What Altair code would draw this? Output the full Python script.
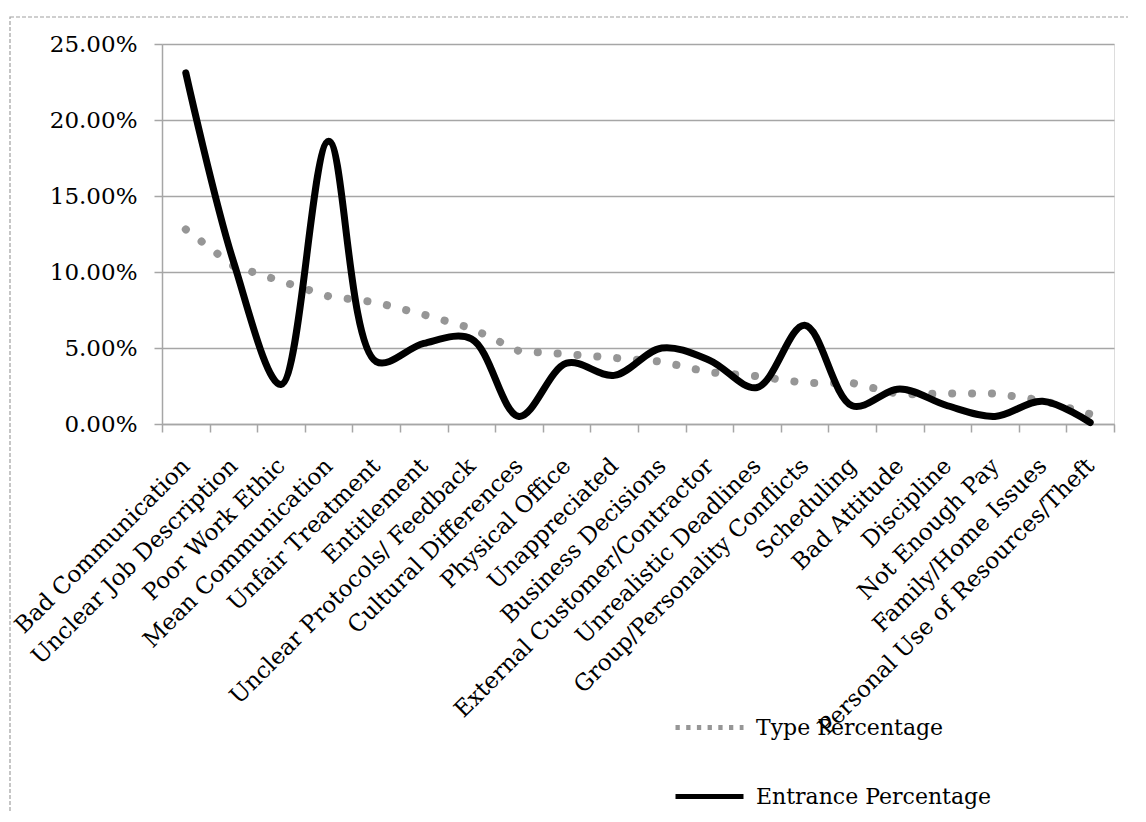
import altair as alt
import pandas as pd

categories = [
    "Bad Communication", "Unclear Job Description", "Poor Work Ethic",
    "Mean Communication", "Unfair Treatment", "Entitlement",
    "Unclear Protocols/ Feedback", "Cultural Differences", "Physical Office",
    "Unappreciated", "Business Decisions", "External Customer/Contractor",
    "Unrealistic Deadlines", "Group/Personality Conflicts", "Scheduling",
    "Bad Attitude", "Discipline", "Not Enough Pay", "Family/Home Issues",
    "Personal Use of Resources/Theft",
]
type_pct = [0.128, 0.104, 0.094, 0.084, 0.080, 0.072, 0.063, 0.048, 0.046, 0.0435,
            0.041, 0.034, 0.0315, 0.027, 0.027, 0.0195, 0.020, 0.020, 0.0155, 0.0065]
entrance_pct = [0.231, 0.107, 0.026, 0.186, 0.041, 0.053, 0.056, 0.005, 0.040, 0.032,
                0.050, 0.042, 0.024, 0.065, 0.012, 0.023, 0.012, 0.005, 0.015, 0.001]
series_names = ["Type Percentage", "Entrance Percentage"]

rows = []
for i, c in enumerate(categories):
    rows.append({"cat": c, "series": series_names[0], "value": type_pct[i], "order": i})
    rows.append({"cat": c, "series": series_names[1], "value": entrance_pct[i], "order": i})
df = pd.DataFrame(rows)

FONT = "DejaVu Serif"
GRID = "#a6a6a6"

x_enc = alt.X("cat:N", sort=categories, title=None,
              scale=alt.Scale(paddingInner=0, paddingOuter=0),
              axis=alt.Axis(labelAngle=-45, labelAlign="right", labelBaseline="middle",
                            labelPadding=30, tickSize=8, tickBand="extent",
                            domainColor=GRID, tickColor=GRID, domainWidth=1.5, tickWidth=1.5,
                            labelFont=FONT, labelFontSize=23, labelColor="#000000",
                            labelOverlap=False, labelLimit=0))
y_enc = alt.Y("value:Q", title=None,
              scale=alt.Scale(domain=[0, 0.25], nice=False),
              axis=alt.Axis(format=".2%", values=[0, 0.05, 0.10, 0.15, 0.20, 0.25],
                            tickSize=8, labelPadding=17, grid=True, gridColor=GRID,
                            gridWidth=1.5, domainColor=GRID, tickColor=GRID,
                            domainWidth=1.5, tickWidth=1.5,
                            labelFont=FONT, labelFontSize=23, labelColor="#000000"))

legend = alt.Legend(title=None, orient="none", legendX=511, legendY=647,
                    symbolType="stroke", symbolSize=4624, symbolStrokeWidth=5,
                    labelFont=FONT, labelFontSize=22, labelColor="#000000", labelLimit=0,
                    labelOffset=10, rowPadding=21, direction="vertical")

color_enc = alt.Color("series:N", scale=alt.Scale(domain=series_names, range=["#969696", "#000000"]),
                      legend=legend)
dash_enc = alt.StrokeDash("series:N",
                          scale=alt.Scale(domain=series_names, range=[[4.3, 6.4], [1, 0]]),
                          legend=legend)

base = alt.Chart(df)

# invisible layer that only carries the legend symbols
legend_layer = base.mark_line(strokeOpacity=0).encode(
    x=x_enc, y=y_enc, color=color_enc, strokeDash=dash_enc, detail="series:N", order="order:Q")

type_line = base.transform_filter(alt.datum.series == series_names[0]).mark_line(
    strokeWidth=8, strokeCap="round", strokeDash=[0.1, 19.8]
).encode(x=x_enc, y=y_enc, color=color_enc, order="order:Q")

entr_line = base.transform_filter(alt.datum.series == series_names[1]).mark_line(
    strokeWidth=7, strokeCap="round", strokeJoin="round", interpolate="catmull-rom"
).encode(x=x_enc, y=y_enc, color=color_enc, order="order:Q")

border = alt.Chart(pd.DataFrame({"a": [0]})).mark_rect(
    fill=None, stroke="#a0a0a0", strokeWidth=1.2, strokeDash=[4, 2]
).encode(x=alt.value(-152), x2=alt.value(1100), y=alt.value(-27), y2=alt.value(900))

chart = alt.layer(border, legend_layer, type_line, entr_line).properties(
    width=952, height=380,
    autosize=alt.AutoSizeParams(type="none"),
    padding={"left": 154, "top": 36, "right": 14, "bottom": 388},
).configure_view(stroke=None).configure(background="white")

chart.save("out.html", embed_options={"renderer": "svg", "actions": False})
